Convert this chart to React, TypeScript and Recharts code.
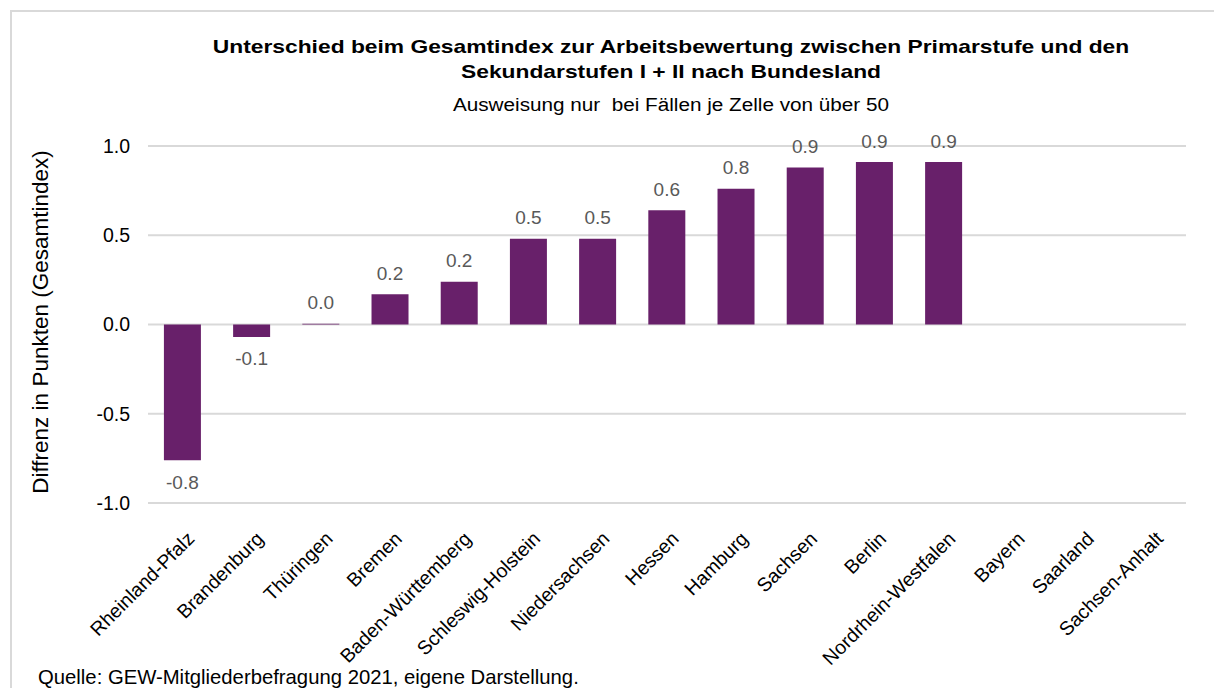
import { BarChart, Bar, XAxis, YAxis, CartesianGrid, LabelList } from "recharts";

const states = [
  "Rheinland-Pfalz",
  "Brandenburg",
  "Thüringen",
  "Bremen",
  "Baden-Württemberg",
  "Schleswig-Holstein",
  "Niedersachsen",
  "Hessen",
  "Hamburg",
  "Sachsen",
  "Berlin",
  "Nordrhein-Westfalen",
  "Bayern",
  "Saarland",
  "Sachsen-Anhalt",
];

// null = keine Ausweisung (zu wenige Fälle)
const diffValues: (number | null)[] = [
  -0.76, -0.07, 0.004, 0.17, 0.24, 0.48, 0.48, 0.64, 0.76, 0.88, 0.91, 0.91, null, null, null,
];

const yTicks = [-1, -0.5, 0, 0.5, 1];

const data = states.map((name, i) => ({ name, value: diffValues[i] }));

const FONT = "'Liberation Sans', Arial, sans-serif";
const BAR_COLOR = "#68206a";

const CategoryTick = (props: any) => {
  const { x, y, payload } = props;
  const tx = x + 8;
  const ty = y + 24;
  return (
    <text
      x={tx}
      y={ty}
      transform={`rotate(-45, ${tx}, ${ty})`}
      textAnchor="end"
      dominantBaseline="central"
      fontSize={19.5}
      fontFamily={FONT}
      fill="#000"
    >
      {payload.value}
    </text>
  );
};

const ValueLabel = (props: any) => {
  const { x, y, width, height, value } = props;
  if (value === null || value === undefined) return null;
  const top = Math.min(y, y + height);
  const bottom = Math.max(y, y + height);
  const ly = value >= 0 ? top - 21 : bottom + 22;
  return (
    <text
      x={x + width / 2}
      y={ly}
      textAnchor="middle"
      dominantBaseline="central"
      fontSize={19}
      fontFamily={FONT}
      fill="#595959"
    >
      {Number(value).toFixed(1)}
    </text>
  );
};

export default function App() {
  return (
    <div
      style={{
        position: "absolute",
        left: 0,
        top: 0,
        width: 1214,
        height: 688,
        overflow: "hidden",
        background: "#fff",
        fontFamily: FONT,
      }}
    >
      <div
        style={{
          position: "absolute",
          left: 10,
          top: 10,
          width: 1400,
          height: 900,
          border: "2px solid #d9d9d9",
        }}
      />
      <div
        style={{
          position: "absolute",
          left: 0,
          width: 1342,
          top: 34,
          textAlign: "center",
          fontWeight: "bold",
          fontSize: 19,
          lineHeight: "25px",
          color: "#000",
          transform: "scaleX(1.2)",
          transformOrigin: "671px 0",
        }}
      >
        Unterschied beim Gesamtindex zur Arbeitsbewertung zwischen Primarstufe und den
        <br />
        Sekundarstufen I + II nach Bundesland
      </div>
      <div
        style={{
          position: "absolute",
          left: 0,
          width: 1342,
          top: 95,
          textAlign: "center",
          fontSize: 18,
          color: "#000",
          whiteSpace: "pre",
          transform: "scaleX(1.15)",
          transformOrigin: "671px 0",
        }}
      >
        {"Ausweisung nur  bei Fällen je Zelle von über 50"}
      </div>
      <div
        style={{
          position: "absolute",
          left: 41,
          top: 322,
          transform: "translate(-50%, -50%) rotate(-90deg)",
          whiteSpace: "nowrap",
          fontSize: 22.5,
          color: "#000",
        }}
      >
        Diffrenz in Punkten (Gesamtindex)
      </div>
      <div
        style={{
          position: "absolute",
          left: 38,
          top: 666,
          fontSize: 20.3,
          color: "#000",
          whiteSpace: "nowrap",
        }}
      >
        Quelle: GEW-Mitgliederbefragung 2021, eigene Darstellung.
      </div>
      <div style={{ position: "absolute", left: 0, top: 0 }}>
        <BarChart
          width={1214}
          height={688}
          data={data}
          margin={{ top: 146, right: 28, bottom: 0, left: 0 }}
          barCategoryGap="23%"
        >
          <CartesianGrid vertical={false} stroke="#d9d9d9" strokeWidth={2} />
          <XAxis
            dataKey="name"
            interval={0}
            height={185}
            axisLine={false}
            tickLine={false}
            tick={<CategoryTick />}
          />
          <YAxis
            width={148}
            domain={[-1, 1]}
            ticks={yTicks}
            allowDataOverflow
            axisLine={false}
            tickLine={false}
            tickSize={0}
            tickMargin={18}
            tickFormatter={(v: number) => v.toFixed(1)}
            tick={{ fontSize: 19.5, fill: "#000", fontFamily: FONT }}
          />
          <Bar dataKey="value" fill={BAR_COLOR} isAnimationActive={false}>
            <LabelList dataKey="value" content={<ValueLabel />} />
          </Bar>
        </BarChart>
      </div>
    </div>
  );
}
